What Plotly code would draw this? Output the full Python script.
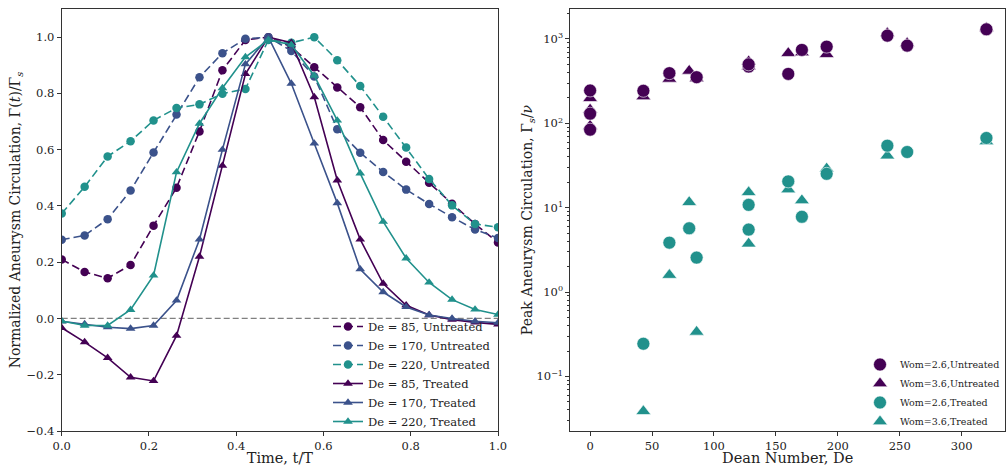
import plotly.graph_objects as go

# ---------------- Left panel data ----------------
time_pts = [0.0, 0.0526, 0.1053, 0.1579, 0.2105, 0.2632, 0.3158, 0.3684, 0.4211, 0.4737,
            0.5263, 0.5789, 0.6316, 0.6842, 0.7368, 0.7895, 0.8421, 0.8947, 0.9474, 1.0]

de85_untreated = [0.21, 0.165, 0.143, 0.19, 0.33, 0.465, 0.665, 0.882, 0.99, 1.0,
                  0.965, 0.893, 0.821, 0.751, 0.634, 0.557, 0.482, 0.408, 0.336, 0.27]
de170_untreated = [0.28, 0.295, 0.353, 0.455, 0.59, 0.725, 0.857, 0.943, 0.994, 1.0,
                   0.951, 0.86, 0.673, 0.589, 0.521, 0.458, 0.407, 0.36, 0.316, 0.286]
de220_untreated = [0.373, 0.468, 0.576, 0.63, 0.704, 0.748, 0.761, 0.799, 0.816, 0.99,
                   0.98, 1.0, 0.918, 0.826, 0.717, 0.608, 0.496, 0.402, 0.336, 0.324]
de85_treated = [-0.033, -0.084, -0.14, -0.209, -0.222, -0.061, 0.22, 0.543, 0.869, 1.0,
                0.98, 0.787, 0.491, 0.281, 0.124, 0.047, 0.012, -0.004, -0.014, -0.021]
de170_treated = [-0.01, -0.02, -0.031, -0.036, -0.025, 0.064, 0.281, 0.6, 0.904, 1.0,
                 0.835, 0.622, 0.41, 0.175, 0.094, 0.041, 0.012, 0.0, -0.01, -0.015]
de220_treated = [-0.009, -0.025, -0.025, 0.031, 0.153, 0.52, 0.693, 0.819, 0.929, 0.99,
                 0.973, 0.863, 0.704, 0.516, 0.344, 0.214, 0.128, 0.067, 0.032, 0.014]

# ---------------- Right panel data ----------------
wom26_untreated_de = [0, 0, 0, 43, 64, 86, 128, 128, 160, 171, 191, 240, 256, 320]
wom26_untreated_val = [245, 130, 84, 243, 393, 352, 471, 500, 385, 741, 811, 1094, 833, 1301]
wom36_untreated_de = [0, 0, 0, 43, 64, 80, 86, 128, 128, 160, 171, 191, 240, 256, 320]
wom36_untreated_val = [198, 145, 93, 208, 336, 418, 340, 540, 470, 678, 690, 659, 1167, 889, 1336]
wom26_treated_de = [43, 64, 80, 86, 128, 128, 160, 171, 191, 240, 256, 320]
wom26_treated_val = [0.244, 3.85, 5.7, 2.56, 10.8, 5.5, 20.5, 7.8, 25.2, 54.3, 45.7, 67]
wom36_treated_de = [43, 64, 80, 86, 128, 128, 160, 171, 191, 240, 320]
wom36_treated_val = [0.0386, 1.59, 11.6, 0.337, 15.2, 3.74, 16.4, 12.2, 29, 41.4, 61]

PURPLE = "#440154"
BLUE = "#3b528b"
TEAL = "#21918c"
FONT = "DejaVu Serif"
FRAME = "#333333"

fig = go.Figure()

left_series = [
    ("De = 85, Untreated", de85_untreated, PURPLE, "8px,4px", "circle"),
    ("De = 170, Untreated", de170_untreated, BLUE, "8px,4px", "circle"),
    ("De = 220, Untreated", de220_untreated, TEAL, "8px,4px", "circle"),
    ("De = 85, Treated", de85_treated, PURPLE, "solid", "triangle-up"),
    ("De = 170, Treated", de170_treated, BLUE, "solid", "triangle-up"),
    ("De = 220, Treated", de220_treated, TEAL, "solid", "triangle-up"),
]
for name, vals, col, dash, sym in left_series:
    fig.add_trace(go.Scatter(
        x=time_pts, y=vals, name=name, mode="lines+markers",
        line=dict(color=col, width=1.6, dash=dash),
        marker=dict(symbol=sym, size=8.5, color=col, line=dict(width=0)),
        xaxis="x", yaxis="y", legend="legend"))

right_series = [
    ("Wom=3.6,Untreated", wom36_untreated_de, wom36_untreated_val, PURPLE, "triangle-up", 2),
    ("Wom=2.6,Untreated", wom26_untreated_de, wom26_untreated_val, PURPLE, "circle", 1),
    ("Wom=3.6,Treated", wom36_treated_de, wom36_treated_val, TEAL, "triangle-up", 4),
    ("Wom=2.6,Treated", wom26_treated_de, wom26_treated_val, TEAL, "circle", 3),
]
for name, xs, ys, col, sym, rank in right_series:
    fig.add_trace(go.Scatter(
        x=xs, y=ys, name=name, mode="markers",
        marker=dict(symbol=sym, size=13, color=col, line=dict(width=0.6, color="white")),
        xaxis="x2", yaxis="y2", legend="legend2", legendrank=rank))

W, H = 1006, 466
x1 = [61.7 / W, 498.0 / W]
x2 = [570.3 / W, 1005.0 / W]
yd = [35.0 / H, 457.0 / H]

axis_common = dict(showgrid=False, zeroline=False, showline=True, mirror=True,
                   linecolor=FRAME, linewidth=1, ticks="outside", ticklen=4,
                   tickcolor=FRAME, tickwidth=1,
                   tickfont=dict(family=FONT, size=11.5, color="#222"))

minor_vals = []
for base in [0.01, 0.1, 1, 10, 100, 1000]:
    for m in range(2, 10):
        minor_vals.append(base * m)

fig.update_layout(
    width=W, height=H,
    margin=dict(l=0, r=0, t=0, b=0),
    paper_bgcolor="white", plot_bgcolor="white",
    font=dict(family=FONT, color="#222"),
    xaxis=dict(domain=x1, range=[0, 1], anchor="y", tickvals=[0, 0.2, 0.4, 0.6, 0.8, 1.0],
               tickformat=".1f", automargin=False,
               title=dict(text="Time, t/T", font=dict(family=FONT, size=14.5), standoff=8),
               **axis_common),
    yaxis=dict(domain=yd, range=[-0.4, 1.1], anchor="x",
               tickvals=[-0.4, -0.2, 0.0, 0.2, 0.4, 0.6, 0.8, 1.0], tickformat=".1f",
               automargin=False,
               title=dict(text="Normalized Aneurysm Circulation, Γ(<i>t</i>)/Γ<sub><i>s</i></sub>",
                          font=dict(family=FONT, size=14), standoff=2),
               **axis_common),
    xaxis2=dict(domain=x2, range=[-16, 335], anchor="y2",
                tickvals=[0, 50, 100, 150, 200, 250, 300], automargin=False,
                title=dict(text="Dean Number, De", font=dict(family=FONT, size=14.5), standoff=8),
                **axis_common),
    yaxis2=dict(domain=yd, type="log", range=[-1.647, 3.355], anchor="x2",
                tickvals=[0.1, 1, 10, 100, 1000],
                ticktext=["10<sup>−1</sup>", "10<sup>0</sup>", "10<sup>1</sup>",
                          "10<sup>2</sup>", "10<sup>3</sup>"],
                minor=dict(tickmode="array", tickvals=minor_vals, ticks="outside",
                           ticklen=2, tickcolor=FRAME, tickwidth=0.8, showgrid=False),
                automargin=False,
                title=dict(text="Peak Aneurysm Circulation, Γ<sub><i>s</i></sub>/<i>ν</i>",
                           font=dict(family=FONT, size=14), standoff=0),
                **axis_common),
    legend=dict(x=496 / W, y=(H - 436) / H, xanchor="right", yanchor="bottom",
                bgcolor="rgba(255,255,255,0)", borderwidth=0,
                font=dict(family=FONT, size=11.5, color="#222"),
                tracegroupgap=0, itemwidth=30),
    legend2=dict(x=1005 / W, y=(H - 436) / H, xanchor="right", yanchor="bottom",
                 bgcolor="rgba(255,255,255,0)", borderwidth=0,
                 font=dict(family=FONT, size=9.5, color="#222"),
                 tracegroupgap=0, itemwidth=30),
    shapes=[dict(type="line", xref="x domain", yref="y", x0=0, x1=1, y0=0, y1=0,
                 line=dict(color="gray", width=1.3, dash="6px,3px"), layer="below")],
)

fig.write_html("out.html")
